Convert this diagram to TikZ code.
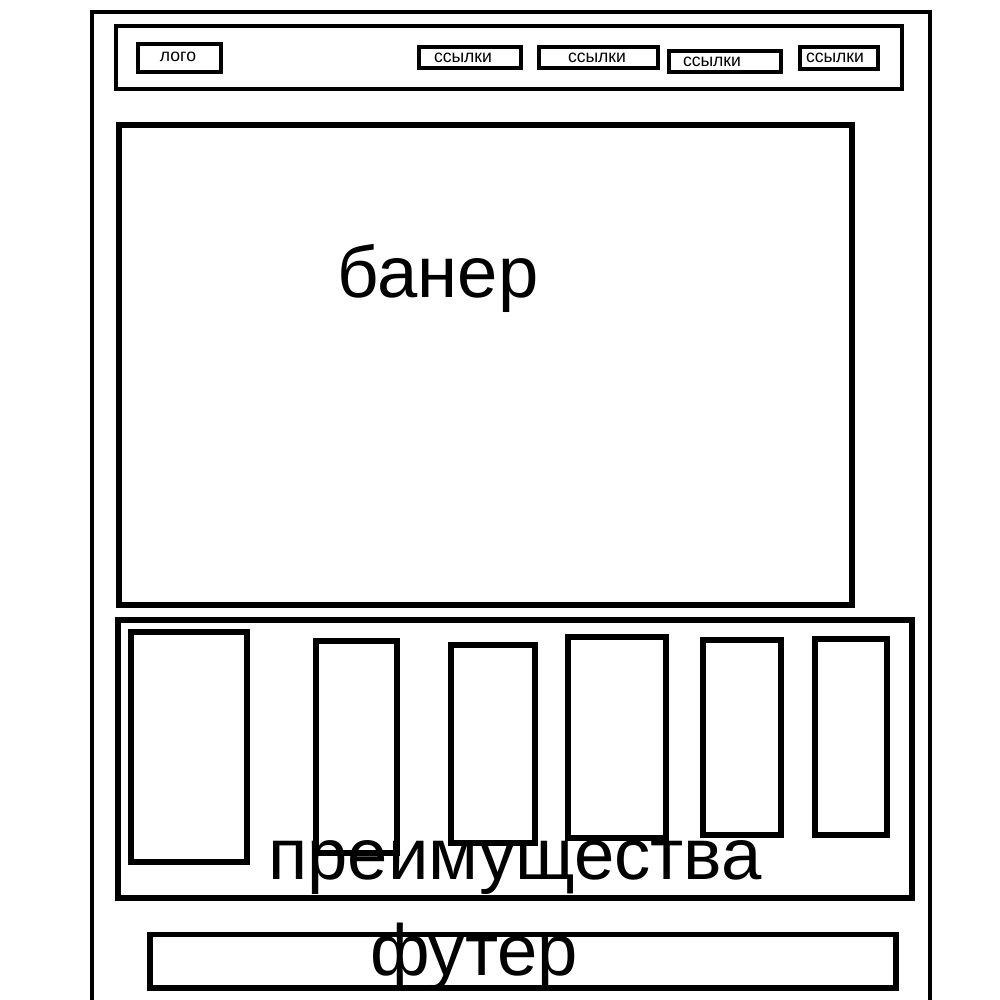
\documentclass[tikz,border=0pt]{standalone}
\usepackage{fontspec}
\setmainfont{Liberation Sans}
\begin{document}
\begin{tikzpicture}[x=0.01cm, y=-0.01cm]
      \tikzstyle{box} = [draw, rectangle, inner sep=0pt, line width=1.1pt]
      \tikzstyle{boxthick} = [box, line width=1.7pt]
      \tikzstyle{smalltext} = [anchor=base, inner sep=0pt,
                               font=\fontsize{5}{6}\selectfont]
      \tikzstyle{bigtext} = [anchor=base, inner sep=0pt,
                             font=\fontsize{20.6}{24}\selectfont]

      \useasboundingbox (0,0) rectangle (1000,1000);

      % page frame
      \draw[line width=1.1pt] (92,1000) -- (92,12) -- (930,12) -- (930,1000);

      % header
      \node[box, minimum width=7.86cm, minimum height=0.63cm] (header) at (509,57.5) {};
      \node[box, minimum width=0.83cm, minimum height=0.28cm] (logo) at (179.5,58) {};
      \node[box, minimum width=1.02cm, minimum height=0.21cm] (link1) at (470,57.5) {};
      \node[box, minimum width=1.19cm, minimum height=0.21cm] (link2) at (598.5,57.5) {};
      \node[box, minimum width=1.12cm, minimum height=0.21cm] (link3) at (725,61.5) {};
      \node[box, minimum width=0.78cm, minimum height=0.22cm] (link4) at (839,58) {};
      \node[smalltext] (logotext) at (178,61) {лого};
      \node[smalltext] (link1text) at (463,62) {ссылки};
      \node[smalltext] (link2text) at (597,62) {ссылки};
      \node[smalltext] (link3text) at (712,66) {ссылки};
      \node[smalltext] (link4text) at (835,62) {ссылки};

      % banner
      \node[boxthick, minimum width=7.33cm, minimum height=4.8cm] (banner) at (485.5,365) {};
      \node[bigtext] (bannertext) at (438,297) {банер};

      % benefits
      \node[boxthick, minimum width=7.94cm, minimum height=2.78cm] (benefits) at (515,759) {};
      \node[boxthick, minimum width=1.16cm, minimum height=2.30cm] (card1) at (189,747) {};
      \node[boxthick, minimum width=0.81cm, minimum height=2.12cm] (card2) at (356.5,747) {};
      \node[boxthick, minimum width=0.84cm, minimum height=1.98cm] (card3) at (493,744) {};
      \node[boxthick, minimum width=0.98cm, minimum height=2.01cm] (card4) at (617,737.5) {};
      \node[boxthick, minimum width=0.78cm, minimum height=1.95cm] (card5) at (742,737.5) {};
      \node[boxthick, minimum width=0.72cm, minimum height=1.96cm] (card6) at (851,737) {};
      \node[bigtext] (benefitstext) at (515,879) {преимущества};

      % footer
      \node[boxthick, minimum width=7.46cm, minimum height=0.53cm] (footer) at (523,961) {};
      \node[bigtext] (footertext) at (474,975) {футер};
\end{tikzpicture}
\end{document}
